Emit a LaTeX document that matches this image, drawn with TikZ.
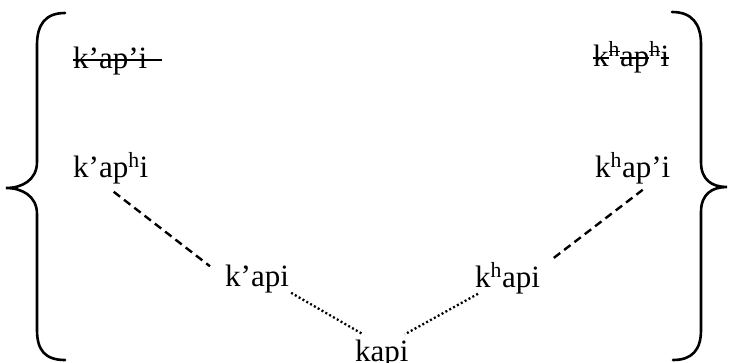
\documentclass[tikz,border=0pt]{standalone}
\usepackage{fontspec}
\setmainfont{Liberation Serif}
\usepackage{tikz}
\newcommand\strk[2][0pt]{\setbox0\hbox{#2}\rlap{\rule[0.24em]{\dimexpr\wd0+#1\relax}{0.05em}}\box0}
\begin{document}
\begin{tikzpicture}[
  x=1pt,y=-1pt,
  form/.style={inner sep=0pt,anchor=base west,font=\fontsize{31}{36}\selectfont},
  bracket/.style={draw=black,line width=2.6pt,line cap=round},
  dashlink/.style={draw=black,line width=2.4pt,dash pattern=on 8pt off 5pt},
  dotlink/.style={draw=black,line width=2.3pt,dash pattern=on 2pt off 2.4pt}
]
\useasboundingbox (0,0) rectangle (730,362);
\node[form] (kpkp) at (73,68) {\strk[15pt]{k’ap’i}};
\node[form] (khkh) at (593,66) {\strk{k}\textsuperscript{\strk{h}}\strk{ap}\textsuperscript{\strk{h}}\strk{i}};
\node[form] (kpkh) at (73,177) {k’ap\textsuperscript{h}i};
\node[form] (khkp) at (595,177) {k\textsuperscript{h}ap’i};
\node[form] (kpk) at (225,286) {k’api};
\node[form] (khk) at (475,287) {k\textsuperscript{h}api};
\node[form] (kapi) at (355,361) {kapi};
% the two braces
\draw[bracket] (65,13) .. controls (45,13) and (37,25) .. (37,45) -- (37,162)
  .. controls (37,180) and (22,188) .. (6,188) .. controls (22,188) and (37,196) .. (37,214)
  -- (37,330) .. controls (37,350) and (45,360) .. (65,360);
\draw[bracket] (672,12) .. controls (692,12) and (701,24) .. (701,44) -- (701,162)
  .. controls (701,180) and (712,187) .. (727,187) .. controls (712,187) and (701,194) .. (701,212)
  -- (701,330) .. controls (701,350) and (692,360) .. (673,360);
\draw[dashlink] ([xshift=3pt,yshift=-8pt]kpkh.south) -- ([xshift=-15pt,yshift=-2pt]kpk.north west);
\draw[dashlink] ([xshift=10pt,yshift=-6pt]khkp.south) -- ([xshift=10pt,yshift=2pt]khk.north east);
\draw[dotlink] ([xshift=2pt]kpk.south east) -- ([xshift=8pt,yshift=5pt]kapi.north west);
\draw[dotlink] ([xshift=3pt]khk.south west) -- ([xshift=-4pt,yshift=5pt]kapi.north east);
\end{tikzpicture}
\end{document}
